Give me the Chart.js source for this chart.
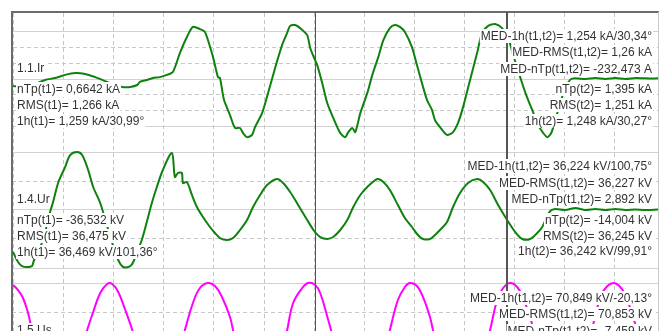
<!DOCTYPE html>
<html><head><meta charset="utf-8">
<script src="https://cdn.jsdelivr.net/npm/chart.js@4/dist/chart.umd.min.js"></script>
<style>html,body{margin:0;padding:0;background:#fff;overflow:hidden;width:661px;height:331px}canvas{display:block}</style>
</head><body>
<canvas id="c" width="661" height="331"></canvas>
<script>
// ---- data (time in ms) ----
const irTime = [-0.1,2.3,4.3,6.3,8.3,10.3,12.3,14.3,16.3,17.7,19.7,21.7,23.3,24.7,25.2,26.6,27.8,29.2,30.6,31.8,33.2,34.6,35.8,37.2,38.2,39.8,40.8,41.2,42.0,43.2,44.2,45.2,45.8,46.6,47.6,48.2,49.6,50.8,52.2,53.6,54.6,55.2,56.2,57.2,58.6,59.2,60.0,60.6,61.6,62.6,63.8,65.2,66.2,66.8,67.6,68.2,69.2,70.6,71.6,72.8,73.8,75.1,76.1,77.1,78.1,79.5,80.5,81.5,82.5,83.5,84.1,85.1,86.5,87.7,88.7,89.7,91.1,92.5,93.5,94.7,96.1,97.5,98.7,99.7,101.1,102.3,103.5,104.7,105.7,106.5,107.3,108.1,109.1,110.1,111.1,112.1,114.1,116.1,118.1,120.1,122.1,124.1,126.0,128.6];
const irValue = [-0.22,-0.25,-0.16,-0.03,0.03,0.13,0.19,0.16,0.06,-0.03,-0.16,-0.25,-0.25,-0.19,-0.09,-0.03,0.03,0.06,0.13,0.22,0.82,1.33,1.65,1.58,1.49,0.70,0.06,0.03,-0.66,-1.14,-1.55,-1.55,-1.71,-1.84,-1.77,-1.52,-1.08,-0.44,0.35,1.08,1.46,1.68,1.71,1.61,1.39,0.98,0.66,0.44,-0.13,-0.76,-1.23,-1.71,-1.84,-1.68,-1.55,-1.68,-1.08,-0.44,0.13,0.70,1.23,1.61,1.71,1.65,1.49,1.01,0.44,-0.13,-0.66,-0.98,-1.30,-1.52,-1.77,-1.68,-1.39,-0.89,-0.03,0.82,1.46,1.68,1.74,1.61,1.30,0.76,0.06,-0.51,-0.98,-1.46,-1.71,-1.84,-1.71,-1.30,-0.76,-0.28,-0.02,0.02,0.0,0.03,0.0,0.03,0.0,0.03,0.02,0.02]; // kA

const urTime = [-0.1,0.9,1.7,2.7,3.7,4.1,4.9,6.1,7.3,7.9,8.9,10.3,11.3,12.7,13.7,14.9,15.9,17.3,18.5,19.7,20.9,21.9,23.3,23.9,25.6,26.6,27.6,28.6,29.8,31.6,32.2,32.8,33.6,33.8,34.6,35.6,36.6,37.8,39.2,40.2,41.2,42.6,43.8,45.2,46.6,47.8,49.2,50.6,52.6,53.8,55.2,56.8,58.6,60.0,61.2,62.6,63.8,65.2,66.6,67.8,69.2,70.6,72.6,73.8,75.1,76.7,78.1,79.5,80.7,81.7,83.1,84.1,85.1,86.5,87.7,89.1,90.7,92.5,93.7,95.1,96.7,98.5,100.1,101.5,103.1,104.5,105.5,106.3,107.1,108.1,110.1,112.1,114.1,116.1,118.1,120.1,122.1,124.1,126.0,128.6];
const urValue = [-72.4,-89.7,-96.6,-98.3,-96.6,-86.2,-74.1,-44.8,-3.4,13.8,46.6,74.1,94.8,100.0,94.8,69.0,39.7,12.1,-22.4,-56.9,-86.2,-98.3,-96.6,-89.7,-51.7,-20.7,12.1,39.7,69.0,98.3,56.9,63.8,63.8,46.6,48.3,25.9,5.2,-12.1,-29.3,-39.7,-48.3,-51.7,-48.3,-34.5,-17.2,5.2,25.9,43.1,53.4,46.6,31.0,8.6,-17.2,-36.2,-46.6,-50.0,-46.6,-34.5,-17.2,5.2,25.9,39.7,53.4,48.3,34.5,8.6,-13.8,-29.3,-43.1,-50.0,-50.0,-43.1,-34.5,-20.7,5.2,29.3,46.6,53.4,48.3,34.5,8.6,-17.2,-37.9,-50.0,-50.0,-39.7,-29.3,-13.8,-1.7,1.7,0,3.4,0,1.7,0,1.7,0,0.9,0,0.9]; // kV

const usTime = [-0.1,0.9,1.9,2.9,3.7,4.5,6.7,9.3,11.7,14.1,14.7,15.9,17.3,18.7,19.7,20.9,22.3,23.7,24.3,26.6,29.0,31.4,33.6,34.2,35.8,37.2,38.8,40.2,41.6,43.2,43.8,44.4,46.8,49.2,51.6,54.0,54.6,55.8,57.6,58.8,60.2,61.2,62.8,64.0,66.8,69.2,71.8,74.5,75.1,76.7,78.1,79.1,80.5,81.7,83.1,83.7,84.3,86.9,89.3,91.9,94.5,95.1,96.5,97.7,99.1,100.5,101.7,103.1,104.1,104.7,107.1,109.5,112.1,114.9,116.1,117.3,118.5,119.7,120.9,122.1,123.5,125.1,127.5,128.7];
const usValue = [96.6,87.9,74.1,48.3,19.0,0,-71,-100,-71,0,19.0,50,82.8,98.3,98.3,84.5,53.4,19.0,0,-71,-100,-71,0,19,65.5,91.4,100,94.8,75.9,41.4,19,0,-71,-100,-71,0,19,65.5,91.4,100,96.6,82.8,36.2,0,-71,-100,-71,0,19,70.7,93.1,100,94.8,75.9,41.4,19,0,-71,-100,-71,0,19,70.7,91.4,100,93.1,74.1,39.7,12,0,-71,-100,-71,0,44.8,79.3,94.8,100,94.8,79.3,44.8,0,-71,-93]; // kV

const cursorTimes = [60.2, 98.5];         // t1, t2 (ms)
const xGridTicks = [0,10,20,30,40,50,60,70,80,90,100,110,120];
const irGridTicks = [-1.5,-1,-0.5,0,0.5,1,1.5];
const irMajorTicks = [-1.5,0,1.5];
const uGridTicks = [-100,-50,0,50,100];
const uMajorTicks = [-100,0,100];

const irName = '1.1.Ir';
const irLeft = ['nTp(t1)= 0,6642 kA','RMS(t1)= 1,266 kA','1h(t1)= 1,259 kA/30,99°'];
const irRight = ['MED-1h(t1,t2)= 1,254 kA/30,34°','MED-RMS(t1,t2)= 1,26 kA','MED-nTp(t1,t2)= -232,473 A','nTp(t2)= 1,395 kA','RMS(t2)= 1,251 kA','1h(t2)= 1,248 kA/30,27°'];
const urName = '1.4.Ur';
const urLeft = ['nTp(t1)= -36,532 kV','RMS(t1)= 36,475 kV','1h(t1)= 36,469 kV/101,36°'];
const urRight = ['MED-1h(t1,t2)= 36,224 kV/100,75°','MED-RMS(t1,t2)= 36,227 kV','MED-nTp(t1,t2)= 2,892 kV','nTp(t2)= -14,004 kV','RMS(t2)= 36,245 kV','1h(t2)= 36,242 kV/99,91°'];
const usName = '1.5.Us';
const usLeft = [];
const usRight = ['MED-1h(t1,t2)= 70,849 kV/-20,13°','MED-RMS(t1,t2)= 70,853 kV','MED-nTp(t1,t2)= -7,459 kV'];

// ---- layout / style ----
const AREA_TOP = 12, AREA_BOTTOM = 331;
function yRange(zeroPx, pxPerUnit){ return {min: -(AREA_BOTTOM - zeroPx)/pxPerUnit, max: (zeroPx - AREA_TOP)/pxPerUnit}; }
const irR = yRange(79, 31.6), urR = yRange(210, 0.58), usR = yRange(341, 0.58);
const GREEN = 'rgb(14,130,14)', MAGENTA = '#ff00ff';
const FONT = '12px "Liberation Sans", Arial, sans-serif';
const NAME_OFF = -11, LEFT_OFF = [10,26,42], RIGHT_OFF = [-43.5,-27,-10.5,10,26,41.5];
const LEFT_X = 17, RIGHT_X = 652;

const pts = (t, v) => t.map((x, i) => ({x, y: v[i]}));

function yAxis(r, ticks, major, showBorder){
  return {
    type: 'linear', position: 'left', min: r.min, max: r.max,
    afterBuildTicks: s => { s.ticks = ticks.map(v => ({value: v})); },
    ticks: {display: false},
    grid: {drawTicks: false, lineWidth: 1,
      color: c => (c.tick && major.includes(c.tick.value)) ? '#d2d2d2' : '#c9c9c9'},
    border: {display: showBorder, color: '#6c6c6c', width: 2,
      dash: c => (c.tick && !major.includes(c.tick.value)) ? [4,3] : []}
  };
}

const overlay = {
  id: 'overlay',
  afterDatasetsDraw(chart){
    const {ctx, chartArea: a, scales} = chart;
    ctx.save();
    cursorTimes.forEach((t, i) => {
      const w = i === 0 ? 1 : 2;
      const x = Math.round(scales.x.getPixelForValue(t)) + (w % 2 ? 0.5 : 0);
      ctx.strokeStyle = '#555'; ctx.lineWidth = w;
      ctx.beginPath(); ctx.moveTo(x, a.top); ctx.lineTo(x, a.bottom); ctx.stroke();
    });
    ctx.font = FONT; ctx.textBaseline = 'middle';
    const lab = (s, x, y, align) => {
      const w = ctx.measureText(s).width;
      const x0 = align === 'left' ? x : x - w;
      ctx.fillStyle = '#fff'; ctx.fillRect(x0 - 1, Math.round(y) - 7, w + 2, 14);
      ctx.fillStyle = '#333'; ctx.textAlign = align; ctx.fillText(s, x, Math.round(y) + 0.5);
    };
    [['yIr', irName, irLeft, irRight], ['yUr', urName, urLeft, urRight], ['yUs', usName, usLeft, usRight]].forEach(([ax, name, left, right]) => {
      const z = scales[ax].getPixelForValue(0);
      lab(name, LEFT_X, z + NAME_OFF, 'left');
      left.forEach((s, i) => lab(s, LEFT_X, z + LEFT_OFF[i], 'left'));
      right.forEach((s, i) => lab(s, RIGHT_X, z + RIGHT_OFF[i], 'right'));
    });
    ctx.restore();
  }
};

const ds = (label, t, v, color, axis, tension) => ({label, data: pts(t, v), borderColor: color, borderWidth: 2, pointRadius: 0, fill: false, tension, yAxisID: axis});

new Chart(document.getElementById('c'), {
  type: 'line',
  data: {datasets: [
    ds('1.1.Ir', irTime, irValue, GREEN, 'yIr', 0.25),
    ds('1.4.Ur', urTime, urValue, GREEN, 'yUr', 0.3),
    ds('1.5.Us', usTime, usValue, MAGENTA, 'yUs', 0.4)
  ]},
  options: {
    responsive: false, animation: false, devicePixelRatio: 1, events: [],
    layout: {padding: {top: 12, left: 12, right: 3, bottom: 0}},
    plugins: {legend: {display: false}, tooltip: {enabled: false}},
    scales: {
      x: {type: 'linear', position: 'top', min: -0.3, max: 128.6,
        afterBuildTicks: s => { s.ticks = xGridTicks.map(v => ({value: v})); },
        ticks: {display: false},
        grid: {drawTicks: false, color: '#c6c6c6', lineWidth: 1},
        border: {display: true, color: '#6c6c6c', width: 2, dash: c => c.tick ? [4,3] : []}},
      yIr: yAxis(irR, irGridTicks, irMajorTicks, true),
      yUr: yAxis(urR, uGridTicks, uMajorTicks, false),
      yUs: yAxis(usR, uGridTicks, uMajorTicks, false),
      yEdge: {type: 'linear', position: 'right', min: 0, max: 1,
        ticks: {display: false}, grid: {display: false, drawTicks: false},
        border: {display: true, color: '#c8c8c8', width: 1}}
    }
  },
  plugins: [overlay]
});
</script>
</body></html>
